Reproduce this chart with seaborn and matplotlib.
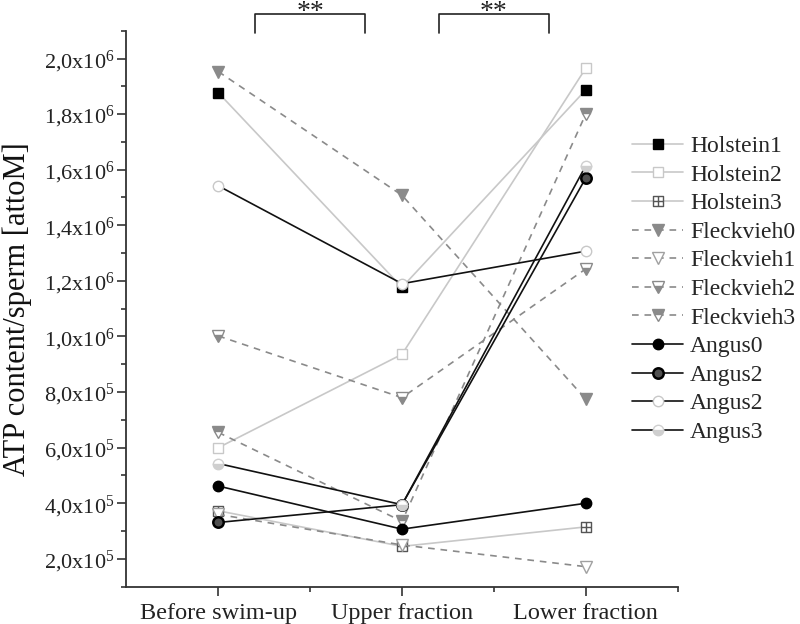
import math
import matplotlib
matplotlib.use("Agg")
import matplotlib.pyplot as plt
from matplotlib.path import Path
from matplotlib.ticker import FixedLocator, MultipleLocator, FuncFormatter
import pandas as pd
import seaborn as sns

# categories on the x axis
fractions = ["Before swim-up", "Upper fraction", "Lower fraction"]

# ATP content per sperm [attoM]
holstein1 = [1.877e6, 1.177e6, 1.887e6]
holstein2 = [6.00e5, 9.36e5, 1.965e6]
holstein3 = [3.73e5, 2.45e5, 3.15e5]
fleckvieh0 = [1.953e6, 1.508e6, 7.75e5]
fleckvieh1 = [3.60e5, 2.50e5, 1.72e5]
fleckvieh2 = [1.002e6, 7.80e5, 1.243e6]
fleckvieh3 = [6.55e5, 3.35e5, 1.80e6]
angus0 = [4.62e5, 3.07e5, 4.00e5]
angus2a = [3.31e5, 3.95e5, 1.57e6]
angus2b = [1.542e6, 1.19e6, 1.307e6]
angus3 = [5.43e5, 3.95e5, 1.614e6]

names = ["Holstein1", "Holstein2", "Holstein3", "Fleckvieh0", "Fleckvieh1",
         "Fleckvieh2", "Fleckvieh3", "Angus0", "Angus2", "Angus2", "Angus3"]
values = [holstein1, holstein2, holstein3, fleckvieh0, fleckvieh1,
          fleckvieh2, fleckvieh3, angus0, angus2a, angus2b, angus3]

# significance brackets between fractions
comparisons = [("Before swim-up", "Upper fraction"), ("Upper fraction", "Lower fraction")]
stars = ["**", "**"]

# square with a cross inside, like Origin's crosshair square
boxplus = Path([(-1, -1), (1, -1), (1, 1), (-1, 1), (-1, -1),
                (0, -1), (0, 1), (-1, 0), (1, 0)],
               [Path.MOVETO, Path.LINETO, Path.LINETO, Path.LINETO, Path.CLOSEPOLY,
                Path.MOVETO, Path.LINETO, Path.MOVETO, Path.LINETO])

# line / marker styles per series
light = "#c8c8c8"
grey = "#8a8a8a"
dash = (0, (4, 3.5))
styles = [
    dict(color=light, marker="s", mfc="black", mec="black", ms=6.5),
    dict(color=light, marker="s", mfc="white", mec=light, ms=6.5),
    dict(color=light, marker=boxplus, mfc="white", mec="#555555", ms=7),
    dict(color=grey, ls=dash, marker="v", mfc=grey, mec=grey, ms=8.5),
    dict(color=grey, ls=dash, marker="v", mfc="white", mec="#a0a0a0", ms=8.5),
    dict(color=grey, ls=dash, marker="v", mfc=grey, mec=grey, ms=8.5,
         fillstyle="bottom", markerfacecoloralt="white"),
    dict(color=grey, ls=dash, marker="v", mfc=grey, mec=grey, ms=8.5,
         fillstyle="top", markerfacecoloralt="white"),
    dict(color="#111111", marker="o", mfc="black", mec="black", ms=7.5),
    dict(color="#111111", marker="o", mfc="#505050", mec="black", ms=7.5, mew=1.8),
    dict(color="#111111", marker="o", mfc="white", mec=light, ms=7.5),
    dict(color="#111111", marker="o", mfc="#cfcfcf", mec="#cfcfcf", ms=7.5,
         fillstyle="bottom", markerfacecoloralt="white"),
]

sns.set_theme(style="ticks")
plt.rcParams["font.family"] = ["Liberation Serif", "DejaVu Serif"]
plt.rcParams["mathtext.fontset"] = "custom"
plt.rcParams["mathtext.rm"] = "Liberation Serif"
plt.rcParams["mathtext.it"] = "Liberation Serif:italic"
plt.rcParams["mathtext.default"] = "regular"

fig = plt.figure(figsize=(8, 6.24), dpi=100)
ax = fig.add_axes([0.158, 0.0598, 0.689, 0.891])

for name, vals, st in zip(names, values, styles):
    df = pd.DataFrame({"fraction": fractions, "atp": vals})
    st = dict(st)
    sns.lineplot(data=df, x="fraction", y="atp", ax=ax, sort=False, label=name,
                 color=st.pop("color"), linestyle=st.pop("ls", "-"),
                 linewidth=1.2, markeredgewidth=st.pop("mew", 1.0), **st)

ax.set_xlim(-0.5, 2.5)
ax.set_ylim(1.0e5, 2.1e6)
ax.xaxis.set_minor_locator(FixedLocator([0.5, 1.5, 2.5]))
ax.yaxis.set_major_locator(MultipleLocator(2e5))
ax.yaxis.set_minor_locator(MultipleLocator(1e5))


def sci_comma(v, pos):
    if v <= 0:
        return ""
    e = int(math.floor(math.log10(v) + 1e-9))
    m = v / 10 ** e
    return f"{m:.1f}".replace(".", ",") + "x10$^{%d}$" % e


ax.yaxis.set_major_formatter(FuncFormatter(sci_comma))
ax.set_xlabel("")
ax.set_ylabel("ATP content/sperm [attoM]", fontsize=22, color="#111111")
ax.yaxis.set_label_coords(-0.172, 0.5)

for side in ["top", "right"]:
    ax.spines[side].set_visible(False)
for side in ["left", "bottom"]:
    ax.spines[side].set_linewidth(1.3)
    ax.spines[side].set_color("#333333")
ax.tick_params(axis="both", which="major", direction="out", length=6.5, width=1.2,
               color="#333333", labelcolor="#222222")
ax.tick_params(axis="both", which="minor", direction="out", length=3.5, width=1.2,
               color="#333333")
ax.tick_params(axis="x", labelsize=17.5, pad=5)
ax.tick_params(axis="y", labelsize=16, pad=2)

# significance brackets
for (a, b), s in zip(comparisons, stars):
    x0 = fractions.index(a) + 0.2
    x1 = fractions.index(b) - 0.2
    ax.plot([x0, x0, x1, x1], [2.092e6, 2.159e6, 2.159e6, 2.092e6],
            color="#222222", lw=1.2, clip_on=False)
    ax.text((x0 + x1) / 2, 2.143e6, s, ha="center", va="baseline", fontsize=20,
            color="#222222", clip_on=False)

ax.legend(loc="upper left", bbox_to_anchor=(0.79, 0.783), bbox_transform=fig.transFigure,
          frameon=False, fontsize=17, handlelength=2.16, handletextpad=0.3,
          labelspacing=0.3, borderpad=0, borderaxespad=0, numpoints=1)

fig.savefig("out.png", dpi=100)
